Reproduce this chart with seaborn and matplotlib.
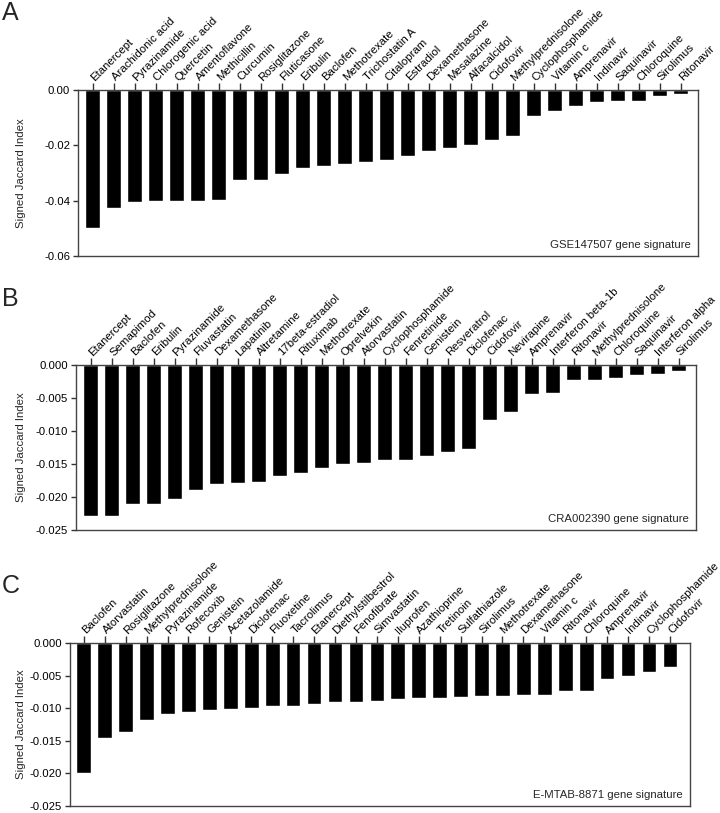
import numpy as np
import pandas as pd
import matplotlib
matplotlib.use("Agg")
import matplotlib.pyplot as plt
import seaborn as sns
from matplotlib.ticker import FormatStrFormatter

# --- data ---
drugs_a = ["Etanercept", "Arachidonic acid", "Pyrazinamide", "Chlorogenic acid", "Quercetin",
           "Amentoflavone", "Methicillin", "Curcumin", "Rosiglitazone", "Fluticasone", "Eribulin",
           "Baclofen", "Methotrexate", "Trichostatin A", "Citalopram", "Estradiol", "Dexamethasone",
           "Mesalazine", "Alfacalcidol", "Cidofovir", "Methylprednisolone", "Cyclophosphamide",
           "Vitamin c", "Amprenavir", "Indinavir", "Saquinavir", "Chloroquine", "Sirolimus", "Ritonavir"]
sji_a = [-0.0499, -0.0425, -0.0406, -0.0400, -0.0400, -0.0400, -0.0396, -0.0327, -0.0327, -0.0302,
         -0.0283, -0.0275, -0.0268, -0.0260, -0.0254, -0.0240, -0.0219, -0.0208, -0.0197, -0.0180,
         -0.0167, -0.0094, -0.0077, -0.0058, -0.0042, -0.0039, -0.0039, -0.0022, -0.0013]

drugs_b = ["Etanercept", "Semapimod", "Baclofen", "Eribulin", "Pyrazinamide", "Fluvastatin",
           "Dexamethasone", "Lapatinib", "Altretamine", "17beta-estradiol", "Rituximab", "Methotrexate",
           "Oprelvekin", "Atorvastatin", "Cyclophosphamide", "Fenretinide", "Genistein", "Resveratrol",
           "Diclofenac", "Cidofovir", "Nevirapine", "Amprenavir", "Interferon beta-1b", "Ritonavir",
           "Methylprednisolone", "Chloroquine", "Saquinavir", "Interferon alpha", "Sirolimus"]
sji_b = [-0.0229, -0.02285, -0.0211, -0.0210, -0.0203, -0.0190, -0.0181, -0.0179, -0.0177, -0.0168,
         -0.0163, -0.0156, -0.0150, -0.0149, -0.01445, -0.01435, -0.01375, -0.0132, -0.0128, -0.0083,
         -0.0071, -0.00445, -0.00425, -0.0022, -0.0022, -0.0019, -0.00145, -0.00135, -0.00085]

drugs_c = ["Baclofen", "Atorvastatin", "Rosiglitazone", "Methylprednisolone", "Pyrazinamide",
           "Rofecoxib", "Genistein", "Acetazolamide", "Diclofenac", "Fluoxetine", "Tacrolimus",
           "Etanercept", "Diethylstilbestrol", "Fenofibrate", "Simvastatin", "Iluprofen", "Azathioprine",
           "Tretinoin", "Sulfathiazole", "Sirolimus", "Methotrexate", "Dexamethasone", "Vitamin c",
           "Ritonavir", "Chloroquine", "Amprenavir", "Indinavir", "Cyclophosphamide", "Cidofovir"]
sji_c = [-0.0200, -0.0146, -0.01364, -0.0118, -0.0109, -0.0106, -0.0103, -0.01015, -0.0099, -0.00965,
         -0.00965, -0.00934, -0.00904, -0.0090, -0.0089, -0.0086, -0.00843, -0.0084, -0.00833, -0.0082,
         -0.0081, -0.0080, -0.0079, -0.0073, -0.0073, -0.0055, -0.0051, -0.0044, -0.0037]

signatures = ["GSE147507 gene signature", "CRA002390 gene signature", "E-MTAB-8871 gene signature"]
letters = ["A", "B", "C"]

sns.set_style("ticks")
plt.rcParams["font.family"] = ["Liberation Sans", "DejaVu Sans"]
plt.rcParams["axes.unicode_minus"] = False
FS = 8.2

W, H = 720, 813
fig = plt.figure(figsize=(W / 100, H / 100), dpi=100)

# axes boxes in pixels: left, right, top, bottom
boxes = [(78, 698, 90, 256), (76, 696, 365, 530), (70, 690, 643, 806)]
xlims = [(-0.7, 28.82), (-0.7, 28.82), (-0.66, 28.96)]
ylims = [-0.06, -0.025, -0.025]
ysteps = [0.02, 0.005, 0.005]
yfmts = ["%.2f", "%.3f", "%.3f"]
letter_y = [20, 306, 593]

panels = [(drugs_a, sji_a), (drugs_b, sji_b), (drugs_c, sji_c)]

for i, (names, vals) in enumerate(panels):
    l, r, t, b = boxes[i]
    ax = fig.add_axes([l / W, (H - b) / H, (r - l) / W, (b - t) / H])
    df = pd.DataFrame({"drug": names, "sji": vals})
    sns.barplot(data=df, x="drug", y="sji", color="black", saturation=1, width=0.7, ax=ax)

    ax.set_xlim(*xlims[i])
    ax.set_ylim(ylims[i], 0)
    ax.set_yticks(np.arange(ylims[i], 0.0001, ysteps[i]))
    ax.yaxis.set_major_formatter(FormatStrFormatter(yfmts[i]))

    ax.xaxis.tick_top()
    ax.set_xticks(range(len(names)))
    ax.set_xticklabels(names, rotation=45, ha="left", va="center", rotation_mode="anchor", fontsize=FS)
    ax.tick_params(axis="x", length=4.8, width=1, pad=3, colors="#333333", labelcolor="black")
    ax.tick_params(axis="y", length=3.6, width=1, pad=2, labelsize=FS, colors="#333333", labelcolor="black")

    for s in ax.spines.values():
        s.set_visible(True)
        s.set_linewidth(1.0)
        s.set_color("#444444")

    ax.set_xlabel("")
    ax.set_ylabel("Signed Jaccard Index", fontsize=FS)
    ax.yaxis.set_label_coords((26 - l) / (r - l), 0.5)

    ax.text(0.988, 0.05, signatures[i], transform=ax.transAxes, ha="right", va="baseline", fontsize=FS)
    fig.text(2 / W, 1 - letter_y[i] / H, letters[i], fontsize=18, ha="left", va="baseline")

fig.savefig("out.png", dpi=100)
